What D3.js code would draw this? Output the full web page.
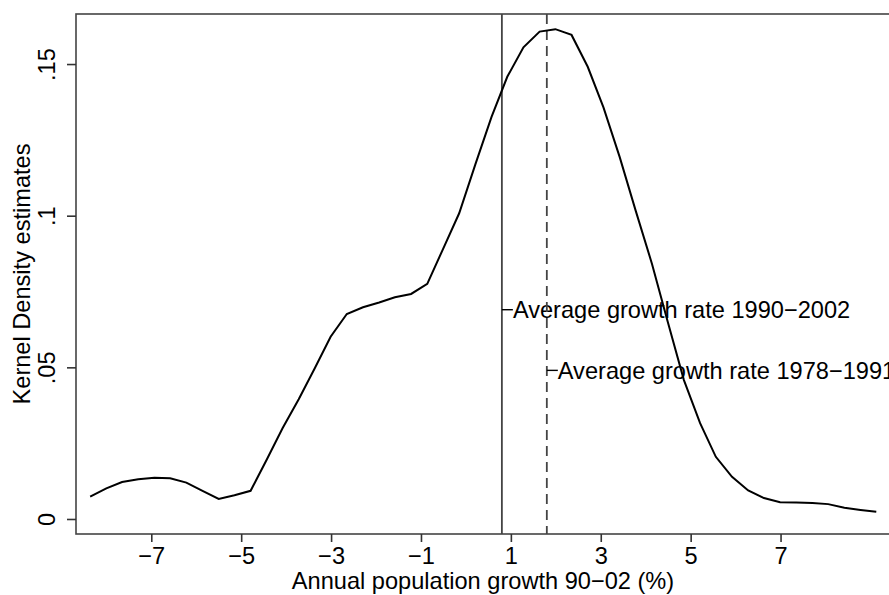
<!DOCTYPE html>
<html>
<head>
<meta charset="utf-8">
<script src="https://cdn.jsdelivr.net/npm/d3@7"></script>
<style>
  body { margin: 0; background: #fff; }
  text { font-family: "Liberation Sans", Arial, Helvetica, sans-serif; }
</style>
</head>
<body>
<svg id="chart" width="889" height="595"></svg>
<script>
// grid points of the kernel density estimate (annual growth, %)
const growth = [-8.36, -8.00, -7.65, -7.29, -6.93, -6.58, -6.22, -5.86, -5.50, -5.15,
  -4.79, -4.43, -4.08, -3.72, -3.36, -3.01, -2.65, -2.29, -1.93, -1.58,
  -1.22, -0.86, -0.51, -0.15, 0.21, 0.57, 0.92, 1.28, 1.64, 1.99,
  2.35, 2.71, 3.06, 3.42, 3.78, 4.14, 4.49, 4.85, 5.21, 5.56,
  5.92, 6.28, 6.63, 6.99, 7.35, 7.71, 8.06, 8.42, 8.78, 9.13]
// estimated density at each grid point
const density = [0.0074, 0.0101, 0.0122, 0.0131, 0.0136, 0.0134, 0.0120, 0.0093, 0.0066, 0.0078,
  0.0093, 0.0196, 0.0299, 0.0395, 0.0498, 0.0601, 0.0676, 0.0698, 0.0714, 0.0731,
  0.0742, 0.0775, 0.0890, 0.1008, 0.1169, 0.1326, 0.1458, 0.1555, 0.1607, 0.1615,
  0.1596, 0.1491, 0.1357, 0.1194, 0.1015, 0.0841, 0.0650, 0.0458, 0.0316, 0.0205,
  0.0139, 0.0094, 0.0069, 0.0055, 0.0054, 0.0053, 0.0049, 0.0037, 0.0030, 0.0024]

const xTicks = [-7, -5, -3, -1, 1, 3, 5, 7]
const xTickLabels = ['\u22127', '\u22125', '\u22123', '\u22121', '1', '3', '5', '7']
const yTicks = [0, 0.05, 0.1, 0.15]
const yTickLabels = ['0', '.05', '.1', '.15']

// reference lines: average growth rates
const refNames = ['Average growth rate 1990\u22122002', 'Average growth rate 1978\u22121991']
const refValues = [0.8, 1.8]
const refLabelY = [0.069, 0.049]
const refDashed = [false, true]

const svg = d3.select('#chart')
const plotL = 76, plotR = 890, plotT = 14, plotB = 534

const x = d3.scaleLinear().domain([-8.675, 9.435]).range([plotL, plotR])
const y = d3.scaleLinear().domain([-0.00495, 0.1665]).range([plotB, plotT])

const fontSize = 23.6
const axisColor = '#333'

// plot region border
svg.append('rect')
  .attr('x', plotL).attr('y', plotT)
  .attr('width', plotR - plotL).attr('height', plotB - plotT)
  .style('fill', 'none').style('stroke', '#444').style('stroke-width', 1.6)

// x axis
const xAxis = svg.append('g')
  .attr('transform', `translate(0,${plotB})`)
  .call(d3.axisBottom(x).tickValues(xTicks).tickSize(8).tickPadding(5)
    .tickFormat((d, i) => xTickLabels[i]))
xAxis.select('.domain').remove()
xAxis.selectAll('line').style('stroke', axisColor).style('stroke-width', 1.6)
xAxis.selectAll('text').style('font-size', fontSize + 'px').style('fill', '#000')
  .style('font-family', '"Liberation Sans", Arial, sans-serif')
  .attr('dy', '0.72em')

// y axis, labels rotated
const yAxis = svg.append('g')
  .attr('transform', `translate(${plotL},0)`)
  .call(d3.axisLeft(y).tickValues(yTicks).tickSize(9)
    .tickFormat((d, i) => yTickLabels[i]))
yAxis.select('.domain').remove()
yAxis.selectAll('line').style('stroke', axisColor).style('stroke-width', 1.6)
yAxis.selectAll('text')
  .attr('x', null).attr('dy', null)
  .attr('text-anchor', 'middle')
  .attr('transform', 'translate(-21,0) rotate(-90)')
  .style('font-size', fontSize + 'px').style('fill', '#000')
  .style('font-family', '"Liberation Sans", Arial, sans-serif')

// axis titles
svg.append('text')
  .attr('x', (plotL + plotR) / 2).attr('y', 589)
  .attr('text-anchor', 'middle')
  .style('font-size', fontSize + 'px')
  .text('Annual population growth 90\u221202 (%)')

svg.append('text')
  .attr('transform', `translate(30,${(plotT + plotB) / 2}) rotate(-90)`)
  .attr('text-anchor', 'middle')
  .style('font-size', fontSize + 'px')
  .text('Kernel Density estimates')

// reference lines
refValues.forEach((v, i) => {
  svg.append('line')
    .attr('x1', x(v)).attr('x2', x(v))
    .attr('y1', plotT).attr('y2', plotB)
    .style('stroke', '#444').style('stroke-width', 1.8)
    .style('stroke-dasharray', refDashed[i] ? '10,6' : null)
  // short tick before the label
  svg.append('line')
    .attr('x1', x(v)).attr('x2', x(v) + 11)
    .attr('y1', y(refLabelY[i])).attr('y2', y(refLabelY[i]))
    .style('stroke', '#000').style('stroke-width', 1.4)
  svg.append('text')
    .attr('x', x(v) + 11).attr('y', y(refLabelY[i]))
    .attr('dy', '0.35em')
    .style('font-size', fontSize + 'px')
    .text(refNames[i])
})

// density curve
const line = d3.line()
  .x((d, i) => x(growth[i]))
  .y(d => y(d))
svg.append('path')
  .datum(density)
  .attr('d', line)
  .style('fill', 'none').style('stroke', '#000').style('stroke-width', 2)
</script>
</body>
</html>
